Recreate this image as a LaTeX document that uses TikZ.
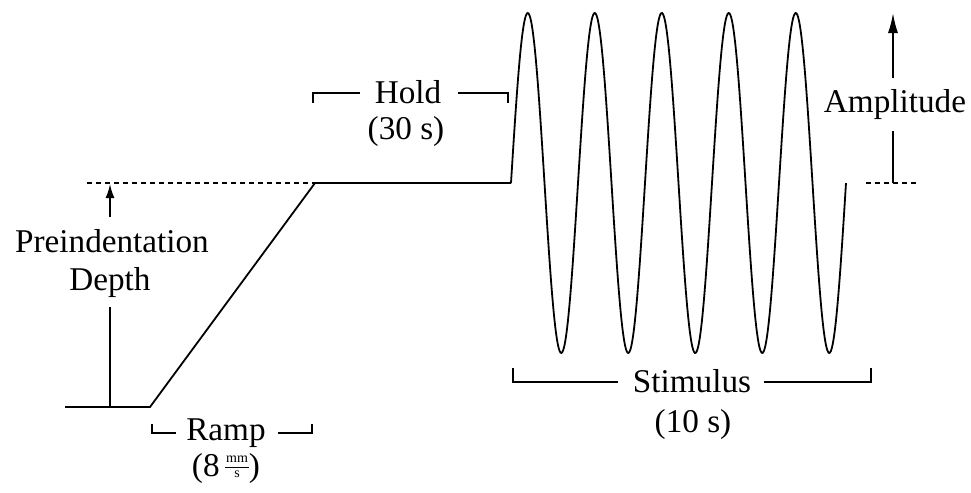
\documentclass[tikz,border=0pt]{standalone}
\usepackage{fontspec}
\setmainfont{Liberation Serif}
\usetikzlibrary{arrows.meta}
\newcommand{\mmfrac}{\ensuremath{\vcenter{\hbox{\fontsize{7}{7}\selectfont\renewcommand\arraystretch{1.0}\setlength\tabcolsep{0.5pt}\begin{tabular}{c}mm\\\hline s\end{tabular}}}}}
\begin{document}
\begin{tikzpicture}[x=0.5pt,y=-0.5pt, line width=0.9pt,
  lbl/.style={font=\fontsize{16.6}{19}\selectfont, inner sep=0pt, anchor=base},
  dsh/.style={line width=0.7pt, dash pattern=on 2.5pt off 2pt},
  brk/.style={line width=0.6pt},
  arrS/.style={-{Latex[length=7pt,width=4.5pt]}},
  arrL/.style={-{Latex[length=10pt,width=5pt]}}]
\useasboundingbox (0,0) rectangle (971,493);

% profile
\coordinate (s0) at (65,407);
\coordinate (s1) at (150,407);
\coordinate (h0) at (315,183);
\coordinate (h1) at (511,183);
\draw (s0) -- (s1) -- (h0) -- (h1);
\draw plot[domain=0:335,samples=400,smooth] ({511+\x},{183-170*sin(\x/67*360)});

% preindentation depth
\coordinate (pd0) at (87,183);
\coordinate (pv0) at (110,407);
\coordinate (pv1) at (110,307);
\coordinate (pa0) at (110,217);
\coordinate (pa1) at (110,184);
\draw[dsh] (pd0) -- (h0);
\draw (pv0) -- (pv1);
\draw[arrS] (pa0) -- (pa1);
\node[lbl] (pre) at (112,252) {Preindentation};
\node[lbl] (dep) at (110,290) {Depth};

% amplitude
\coordinate (ad0) at (866,183);
\coordinate (ad1) at (916,183);
\coordinate (av0) at (893,183);
\coordinate (av1) at (893,131);
\coordinate (aa0) at (893,78);
\coordinate (aa1) at (893,13);
\draw[dsh] (ad0) -- (ad1);
\draw (av0) -- (av1);
\draw[arrL] (aa0) -- (aa1);
\node[lbl] (amp) at (895,112) {Amplitude};

% hold bracket
\node[lbl] (hold) at (408,103) {Hold};
\node[lbl] (hold2) at (406,139) {(30 s)};
\coordinate (hb0) at (313,103);
\coordinate (hb1) at (313,93);
\coordinate (hb2) at (360,93);
\coordinate (hb3) at (458,93);
\coordinate (hb4) at (508,93);
\coordinate (hb5) at (508,103);
\draw[brk] (hb0) -- (hb1) -- (hb2);
\draw[brk] (hb3) -- (hb4) -- (hb5);

% ramp bracket
\node[lbl] (ramp) at (226,440) {Ramp};
\node[lbl] (ramp2) at (226,476) {(8\,\mmfrac)};
\coordinate (rb0) at (152,424);
\coordinate (rb1) at (152,433);
\coordinate (rb2) at (176,433);
\coordinate (rb3) at (278,433);
\coordinate (rb4) at (312,433);
\coordinate (rb5) at (312,424);
\draw[brk] (rb0) -- (rb1) -- (rb2);
\draw[brk] (rb3) -- (rb4) -- (rb5);

% stimulus bracket
\node[lbl] (stim) at (692,392) {Stimulus};
\node[lbl] (stim2) at (693,432) {(10 s)};
\coordinate (sb0) at (513,368);
\coordinate (sb1) at (513,382);
\coordinate (sb2) at (618,382);
\coordinate (sb3) at (764,382);
\coordinate (sb4) at (871,382);
\coordinate (sb5) at (871,368);
\draw[brk] (sb0) -- (sb1) -- (sb2);
\draw[brk] (sb3) -- (sb4) -- (sb5);
\end{tikzpicture}
\end{document}
